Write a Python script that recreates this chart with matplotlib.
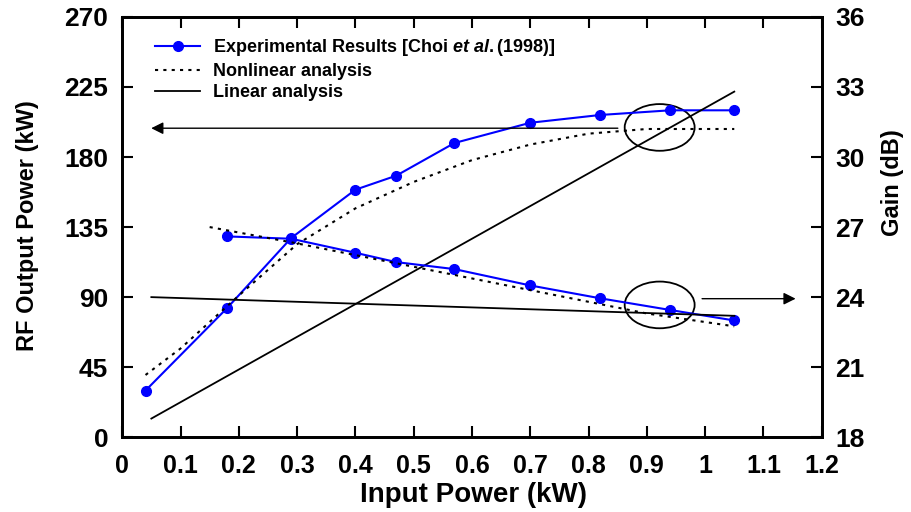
import numpy as np
import matplotlib.pyplot as plt
from matplotlib.patches import Ellipse

# Experimental data (Choi et al. 1998)
exp_x = [0.04, 0.18, 0.29, 0.40, 0.47, 0.57, 0.70, 0.82, 0.94, 1.05]
exp_power = [30, 83, 128, 159, 168, 189, 202, 207, 210, 210]
exp_gain_x = [0.18, 0.29, 0.40, 0.47, 0.57, 0.70, 0.82, 0.94, 1.05]
exp_gain = [26.6, 26.5, 25.9, 25.5, 25.2, 24.5, 23.95, 23.45, 23.0]

# Nonlinear analysis
nl_x = [0.04, 0.1, 0.2, 0.3, 0.4, 0.5, 0.6, 0.7, 0.8, 0.9, 1.0, 1.05]
nl_power = [40, 57, 91, 124, 147, 164, 178, 188, 195, 198, 198, 198]
nl_gain_x = [0.15, 0.3, 0.5, 0.7, 0.9, 1.05]
nl_gain = [27.0, 26.3, 25.3, 24.3, 23.3, 22.75]

# Linear analysis
lin_x = [0.05, 1.05]
lin_power = [12, 222]
lin_gain = [24.0, 23.2]

plt.rcParams["font.family"] = ["Liberation Sans", "DejaVu Sans"]
plt.rcParams["font.weight"] = "bold"
plt.rcParams["mathtext.fontset"] = "custom"
plt.rcParams["mathtext.rm"] = "Liberation Sans:bold"
plt.rcParams["mathtext.it"] = "Liberation Sans:italic:bold"

fig = plt.figure(figsize=(9.12, 5.12), dpi=100)
ax = fig.add_axes([0.134, 0.146, 0.767, 0.821])
ax2 = ax.twinx()

blue = "#0000ff"
ax.plot(exp_x, exp_power, "-o", color=blue, lw=1.5, ms=7,
        label=r"Experimental Results [Choi $\mathit{et\ al.}$(1998)]")
ax.plot(nl_x, nl_power, color="black", lw=1.5, dashes=(1.5, 2.5),
        label="Nonlinear analysis")
ax.plot(lin_x, lin_power, "-", color="black", lw=1.3, label="Linear analysis")

ax2.plot(exp_gain_x, exp_gain, "-o", color=blue, lw=1.5, ms=7)
ax2.plot(nl_gain_x, nl_gain, color="black", lw=1.5, dashes=(1.5, 2.5))
ax2.plot(lin_x, lin_gain, "-", color="black", lw=1.3)

# annotation ellipses and arrows
ax.add_patch(Ellipse((0.922, 199), 0.12, 30, fill=False, lw=1.3, color="black"))
ax.add_patch(Ellipse((0.922, 85), 0.12, 30, fill=False, lw=1.3, color="black"))
ax.annotate("", xy=(0.045, 198.5), xytext=(0.855, 198.5),
            arrowprops=dict(arrowstyle="-|>", color="black", lw=1, mutation_scale=18))
ax.annotate("", xy=(1.16, 89), xytext=(0.99, 89),
            arrowprops=dict(arrowstyle="-|>", color="black", lw=1, mutation_scale=18))

ax.set_xlim(0, 1.2)
ax.set_ylim(0, 270)
ax2.set_ylim(18, 36)
ax.set_xticks(np.arange(0, 1.21, 0.1))
ax.set_xticklabels(["0", "0.1", "0.2", "0.3", "0.4", "0.5", "0.6", "0.7",
                    "0.8", "0.9", "1", "1.1", "1.2"])
ax.set_yticks(np.arange(0, 271, 45))
ax2.set_yticks(np.arange(18, 37, 3))

for a in (ax, ax2):
    for s in a.spines.values():
        s.set_linewidth(2)
    a.tick_params(direction="in", length=8, width=1.5, labelsize=19)
ax.tick_params(axis="x", top=True, pad=12, labelsize=18)
ax.tick_params(axis="y", pad=10)
ax2.tick_params(axis="y", pad=10)

fig.text(0.519, 0.033, "Input Power (kW)", fontsize=20, fontweight="bold",
         ha="center", va="center")
fig.text(0.030, 0.56, "RF Output Power (kW)", fontsize=17, fontweight="bold",
         ha="center", va="center", rotation=90)
fig.text(0.979, 0.643, "Gain (dB)", fontsize=17, fontweight="bold",
         ha="center", va="center", rotation=90)

ax.legend(loc="upper left", bbox_to_anchor=(0.047, 0.951), frameon=False,
          prop={"size": 13, "weight": "bold"}, handlelength=2.5,
          handletextpad=0.7, labelspacing=0.24, borderpad=0, borderaxespad=0)

fig.savefig("out.png", dpi=100)
